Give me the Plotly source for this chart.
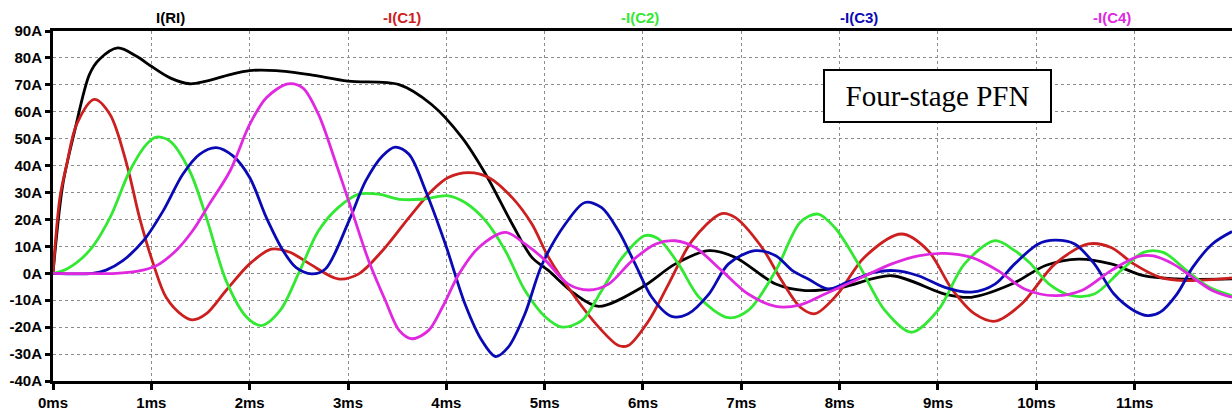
import plotly.graph_objects as go

# ---- data (time in ms, current in A) ----
t_ri = [0.0, 0.1, 0.22, 0.37, 0.47, 0.66, 0.85, 1.0, 1.19, 1.39, 1.56, 1.8, 2.0, 2.27, 2.61, 3.0, 3.52, 3.85,
        4.16, 4.4, 4.67, 4.87, 5.04, 5.3, 5.55, 5.99, 6.33, 6.67, 6.94, 7.35, 7.65, 8.02, 8.53, 9.07, 9.34, 9.75,
        10.1, 10.43, 10.76, 11.09, 11.43, 11.99]
i_ri = [0.0, 33.0, 52.8, 73.8, 79.4, 83.7, 80.6, 76.9, 72.6, 70.4, 71.4, 73.8, 75.3, 75.3, 73.8, 71.4, 70.1, 62.7,
        50.4, 36.8, 18.3, 5.9, 1.0, -7.5, -12.3, -5.2, 3.5, 8.4, 5.9, -4.0, -6.4, -5.2, -0.9, -7.7, -8.9, -4.0,
        3.0, 5.3, 3.5, -0.9, -2.1, -2.1]

t_c1 = [0.0, 0.07, 0.14, 0.24, 0.42, 0.58, 0.75, 0.88, 1.02, 1.15, 1.32, 1.42, 1.56, 1.76, 2.0, 2.22, 2.41, 2.61,
        2.9, 3.11, 3.35, 3.62, 3.85, 4.02, 4.23, 4.43, 4.67, 4.87, 5.04, 5.31, 5.55, 5.75, 5.85, 6.06, 6.26, 6.5,
        6.8, 6.94, 7.21, 7.41, 7.6, 7.75, 7.98, 8.25, 8.63, 8.9, 9.14, 9.37, 9.58, 9.85, 10.19, 10.53, 10.76,
        10.99, 11.26, 11.53, 11.99]
i_c1 = [0.0, 28.0, 40.5, 55.3, 64.6, 59.0, 40.5, 20.7, 3.5, -8.9, -15.7, -17.3, -15.0, -6.4, 3.5, 9.0, 7.8, 3.5,
        -2.1, -0.2, 8.4, 20.7, 30.6, 35.6, 37.4, 35.6, 28.1, 18.3, 5.9, -8.9, -20.0, -26.8, -26.8, -17.5, -4.0, 12.1,
        22.2, 20.7, 9.6, -2.7, -12.6, -15.0, -7.7, 5.9, 14.6, 8.4, -5.8, -15.0, -17.8, -11.4, 3.5, 10.9, 9.6,
        3.5, -1.5, -2.7, -1.7]

t_c2 = [0.0, 0.14, 0.37, 0.58, 0.78, 0.95, 1.05, 1.19, 1.39, 1.56, 1.76, 1.97, 2.12, 2.31, 2.51, 2.7, 2.9, 3.11,
        3.31, 3.52, 3.75, 4.02, 4.19, 4.4, 4.6, 4.8, 5.01, 5.18, 5.38, 5.58, 5.79, 6.02, 6.16, 6.36, 6.57, 6.87,
        7.07, 7.35, 7.6, 7.78, 7.95, 8.19, 8.46, 8.73, 9.0, 9.27, 9.58, 9.78, 9.93, 10.13, 10.36, 10.59, 10.86,
        11.09, 11.29, 11.53, 11.76, 11.99]
i_c2 = [0.0, 1.6, 8.4, 20.7, 38.0, 47.9, 50.6, 49.1, 38.0, 20.7, -2.7, -16.3, -19.4, -13.8, 1.0, 15.8, 24.4, 29.4,
        29.4, 27.5, 27.5, 28.8, 26.3, 19.5, 8.4, -6.4, -16.3, -20.0, -17.5, -6.4, 5.9, 14.0, 12.7, 3.5, -8.9, -16.5,
        -13.8, 1.0, 19.0, 22.0, 17.0, 3.5, -13.8, -21.9, -13.8, 3.5, 12.1, 8.4, 4.0, -4.0, -8.3, -7.7, 1.0,
        7.8, 7.8, 1.0, -5.2, -8.3]

t_c3 = [0.0, 0.4, 0.54, 0.71, 0.92, 1.12, 1.32, 1.49, 1.66, 1.83, 2.0, 2.17, 2.34, 2.47, 2.63, 2.77, 3.01, 3.18,
        3.35, 3.48, 3.62, 3.79, 3.99, 4.19, 4.36, 4.5, 4.63, 4.8, 4.97, 5.21, 5.41, 5.58, 5.75, 5.92, 6.09, 6.29,
        6.46, 6.67, 6.87, 7.14, 7.35, 7.52, 7.68, 7.88, 8.08, 8.36, 8.56, 8.8, 9.07, 9.34, 9.58, 9.78, 10.02,
        10.19, 10.39, 10.59, 10.79, 10.99, 11.13, 11.26, 11.43, 11.59, 11.79, 11.99]
i_c3 = [0.0, 0.0, 1.2, 4.7, 12.1, 23.2, 36.8, 44.2, 46.7, 43.6, 35.6, 20.7, 8.4, 2.2, -0.2, 1.6, 19.5, 34.3,
        43.6, 46.9, 44.2, 30.6, 10.9, -11.4, -24.9, -30.9, -27.4, -15.0, 3.0, 18.3, 26.3, 24.4, 15.8, 3.5, -8.9, -16.0,
        -15.0, -7.7, 3.5, 8.4, 6.5, 1.0, -2.1, -5.8, -3.3, 0.4, 1.0, -0.9, -5.2, -7.0, -4.0, 3.5, 10.9,
        12.3, 10.9, 3.5, -7.7, -13.8, -15.7, -14.4, -7.7, 2.2, 10.9, 15.5]

t_c4 = [0.0, 0.64, 0.85, 1.05, 1.25, 1.42, 1.59, 1.8, 2.0, 2.17, 2.39, 2.54, 2.7, 2.87, 3.04, 3.21, 3.38, 3.52,
        3.65, 3.82, 3.96, 4.13, 4.33, 4.6, 4.8, 5.01, 5.24, 5.45, 5.65, 5.89, 6.13, 6.33, 6.53, 6.8, 7.07, 7.35,
        7.6, 7.85, 8.19, 8.53, 8.8, 9.07, 9.34, 9.61, 9.88, 10.19, 10.46, 10.76, 11.03, 11.19, 11.39, 11.59,
        11.79, 11.99]
i_c4 = [0.0, 0.0, 0.7, 2.8, 8.4, 15.8, 25.7, 38.0, 55.3, 65.2, 70.4, 68.9, 59.0, 41.7, 23.2, 4.7, -10.1, -21.2,
        -24.3, -21.2, -12.6, -0.2, 9.6, 15.2, 10.9, 4.7, -4.0, -6.2, -4.0, 4.7, 10.9, 12.1, 9.6, 1.0, -7.7, -12.3,
        -11.7, -7.7, -2.1, 3.5, 6.5, 7.4, 5.9, 1.0, -5.8, -8.3, -6.4, 1.0, 6.2, 6.5, 3.5, -1.5,
        -6.4, -8.9]

series_names = ["I(RI)", "-I(C1)", "-I(C2)", "-I(C3)", "-I(C4)"]
series_t = [t_ri, t_c1, t_c2, t_c3, t_c4]
series_i = [i_ri, i_c1, i_c2, i_c3, i_c4]
series_colors = ["#000000", "#cc1f1f", "#33e833", "#0a0ab4", "#e028e0"]
label_x = [1.19, 3.55, 5.97, 8.20, 10.77]

y_tick_vals = [-40, -30, -20, -10, 0, 10, 20, 30, 40, 50, 60, 70, 80, 90]
y_tick_text = ["-40A", "-30A", "-20A", "-10A", "0A", "10A", "20A", "30A", "40A", "50A", "60A", "70A", "80A", "90A"]
x_tick_vals = [0, 1, 2, 3, 4, 5, 6, 7, 8, 9, 10, 11]
x_tick_text = ["0ms", "1ms", "2ms", "3ms", "4ms", "5ms", "6ms", "7ms", "8ms", "9ms", "10ms", "11ms"]

fig = go.Figure()
for name, tt, ii, col in zip(series_names, series_t, series_i, series_colors):
    fig.add_trace(go.Scatter(x=tt, y=ii, mode="lines", name=name,
                             line=dict(color=col, width=2.8, shape="spline", smoothing=0.9)))

annos = []
for name, lx, col in zip(series_names, label_x, series_colors):
    annos.append(dict(x=lx, xref="x", y=1, yref="paper", yanchor="bottom", yshift=3,
                      text=name, showarrow=False,
                      font=dict(family="Liberation Sans", size=15, color=col, weight="bold")))
annos.append(dict(x=8.99, y=65.8, xref="x", yref="y", text="Four-stage PFN", showarrow=False,
                  font=dict(family="Liberation Serif", size=29, color="#000000"),
                  bgcolor="#ffffff", bordercolor="#000000", borderwidth=2, borderpad=0,
                  width=225, height=50))

fig.update_layout(
    width=1232, height=411,
    margin=dict(l=53, r=0, t=31, b=30),
    paper_bgcolor="#ffffff", plot_bgcolor="#ffffff",
    showlegend=False,
    annotations=annos,
    xaxis=dict(range=[0, 11.99], tickvals=x_tick_vals, ticktext=x_tick_text,
               showgrid=True, gridcolor="#8c8c8c", gridwidth=1, griddash="3px,3px",
               zeroline=False, showline=True, linecolor="#000000", linewidth=3, mirror=True,
               ticks="outside", ticklen=6, tickwidth=3, tickcolor="#000000",
               tickfont=dict(family="Liberation Sans", size=15, color="#000000", weight="bold")),
    yaxis=dict(range=[-40, 90], tickvals=y_tick_vals, ticktext=y_tick_text,
               showgrid=True, gridcolor="#8c8c8c", gridwidth=1, griddash="3px,3px",
               zeroline=False, showline=True, linecolor="#000000", linewidth=3, mirror=False,
               ticks="outside", ticklen=5, tickwidth=3, tickcolor="#000000",
               tickfont=dict(family="Liberation Sans", size=15, color="#000000", weight="bold")),
)

fig.write_html("out.html", config={"displayModeBar": False},
               post_script="document.body.style.margin='0';document.body.style.overflow='hidden';")
